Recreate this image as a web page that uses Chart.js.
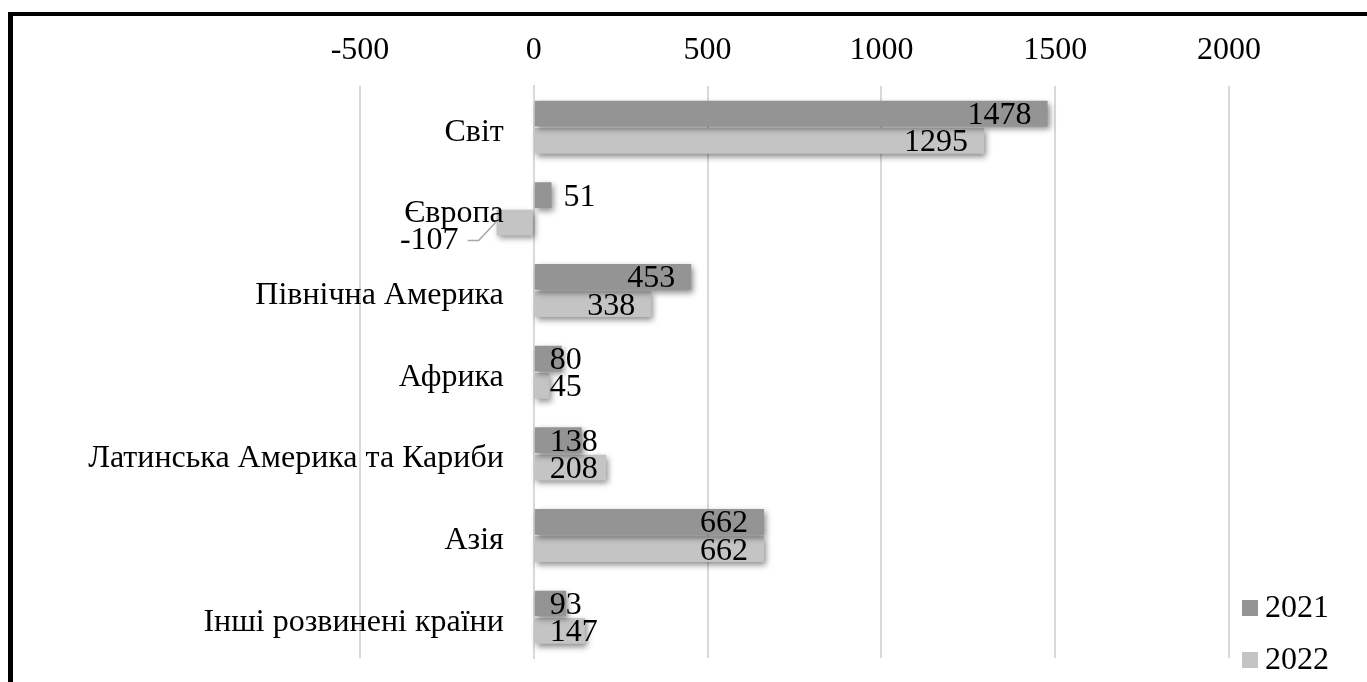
<!DOCTYPE html>
<html lang="uk">

<head>
  <meta charset="UTF-8">
  <title>Світ 2021-2022</title>
  <script src="https://cdn.jsdelivr.net/npm/chart.js"></script>
  <style>
    body {
      margin: 0;
      background: #fff;
      overflow: hidden;
    }

    .wrap {
      position: relative;
      width: 1367px;
      height: 682px;
    }

    .frame {
      position: absolute;
      left: 8px;
      top: 12px;
      right: -20px;
      bottom: -20px;
      border-left: 5px solid #000;
      border-top: 4px solid #000;
      pointer-events: none;
    }

    canvas {
      position: absolute;
      left: 0;
      top: 0;
    }
  </style>
</head>

<body>
  <div class="wrap">
    <canvas id="chart" width="1367" height="682"></canvas>
    <div class="frame"></div>
  </div>

  <script>
    const regions = ['Світ', 'Європа', 'Північна Америка', 'Африка', 'Латинська Америка та Кариби', 'Азія', 'Інші розвинені країни'];
    const values2021 = [1478, 51, 453, 80, 138, 662, 93];
    const values2022 = [1295, -107, 338, 45, 208, 662, 147];
    const seriesNames = ['2021', '2022'];
    const xTicks = [-500, 0, 500, 1000, 1500, 2000];

    const FONT = '"Liberation Serif", "Times New Roman", serif';
    const SIZE = 32;
    const colors = ['#949494', '#c4c4c4'];

    // how the labels of Європа are placed in the original (moved by hand there)
    const labelMode = { '0-1': 'outside', '1-1': 'leader' };

    // bar shadow like the office chart
    const shadowPlugin = {
      id: 'barShadow',
      beforeDatasetsDraw(chart) {
        const ctx = chart.ctx;
        ctx.save();
        ctx.shadowColor = 'rgba(0,0,0,0.45)';
        ctx.shadowBlur = 6;
        ctx.shadowOffsetX = 2;
        ctx.shadowOffsetY = 3;
      },
      afterDatasetsDraw(chart) {
        chart.ctx.restore();
      }
    };

    // category names sit left of the zero line, as in Excel; legend bottom right
    const sidePlugin = {
      id: 'sideTexts',
      afterDraw(chart) {
        const ctx = chart.ctx;
        const xs = chart.scales.x, ys = chart.scales.y;
        const area = chart.chartArea;
        ctx.save();
        ctx.font = SIZE + 'px ' + FONT;
        ctx.fillStyle = '#000';
        ctx.textAlign = 'right';
        ctx.textBaseline = 'middle';
        const x0 = xs.getPixelForValue(0) - 30;
        regions.forEach((name, i) => {
          ctx.fillText(name, x0, ys.getPixelForValue(i) + 5);
        });

        // legend
        ctx.textAlign = 'left';
        seriesNames.forEach((name, i) => {
          const cy = area.bottom - 50 + i * 52;
          ctx.fillStyle = colors[i];
          ctx.fillRect(area.right + 13, cy - 8, 16, 16);
          ctx.fillStyle = '#000';
          ctx.fillText(name, area.right + 36, cy + 1);
        });
        ctx.restore();
      }
    };

    const labelPlugin = {
      id: 'barLabels',
      afterDatasetsDraw(chart) {
        const ctx = chart.ctx;
        ctx.save();
        ctx.font = SIZE + 'px ' + FONT;
        ctx.fillStyle = '#000';
        ctx.textBaseline = 'middle';
        chart.data.datasets.forEach((ds, di) => {
          const meta = chart.getDatasetMeta(di);
          meta.data.forEach((bar, i) => {
            const v = ds.data[i];
            const txt = String(v);
            const w = ctx.measureText(txt).width;
            const len = Math.abs(bar.x - bar.base);
            const mode = labelMode[di + '-' + i];
            const y = bar.y + 2;
            if (mode === 'outside') {
              ctx.textAlign = 'left';
              ctx.fillText(txt, bar.x + 12, y);
            } else if (mode === 'leader') {
              const tx = bar.x - 38;
              const ty = y + 16;
              ctx.textAlign = 'right';
              ctx.fillText(txt, tx, ty);
              ctx.strokeStyle = '#a6a6a6';
              ctx.lineWidth = 1.5;
              ctx.beginPath();
              ctx.moveTo(tx + 9, ty);
              ctx.lineTo(tx + 20, ty);
              ctx.lineTo(bar.x - 1, bar.y);
              ctx.stroke();
            } else if (w + 30 < len) {
              ctx.textAlign = 'right';
              ctx.fillText(txt, bar.x - 16, y);
            } else {
              ctx.textAlign = 'left';
              ctx.fillText(txt, bar.base + 15, y);
            }
          });
        });
        ctx.restore();
      }
    };

    new Chart(document.getElementById('chart'), {
      type: 'bar',
      data: {
        labels: regions,
        datasets: [
          { label: seriesNames[0], data: values2021, backgroundColor: colors[0] },
          { label: seriesNames[1], data: values2022, backgroundColor: colors[1] }
        ]
      },
      options: {
        indexAxis: 'y',
        responsive: false,
        animation: false,
        devicePixelRatio: 1,
        categoryPercentage: 0.67,
        barPercentage: 0.94,
        layout: { padding: { left: 360, top: 14, bottom: 24, right: 138 } },
        plugins: {
          legend: { display: false },
          tooltip: { enabled: false }
        },
        scales: {
          x: {
            position: 'top',
            min: -500,
            max: 2000,
            afterBuildTicks(axis) { axis.ticks = xTicks.map(v => ({ value: v })); },
            grid: { color: '#d9d9d9', lineWidth: 2, drawTicks: false },
            border: { display: false },
            ticks: {
              padding: 17,
              color: '#000',
              font: { family: FONT, size: SIZE },
              callback: v => String(v)
            }
          },
          y: {
            position: { x: 0 },
            grid: { display: false },
            border: { color: '#d9d9d9', width: 2 },
            ticks: { display: false }
          }
        }
      },
      plugins: [shadowPlugin, labelPlugin, sidePlugin]
    });
  </script>
</body>

</html>
